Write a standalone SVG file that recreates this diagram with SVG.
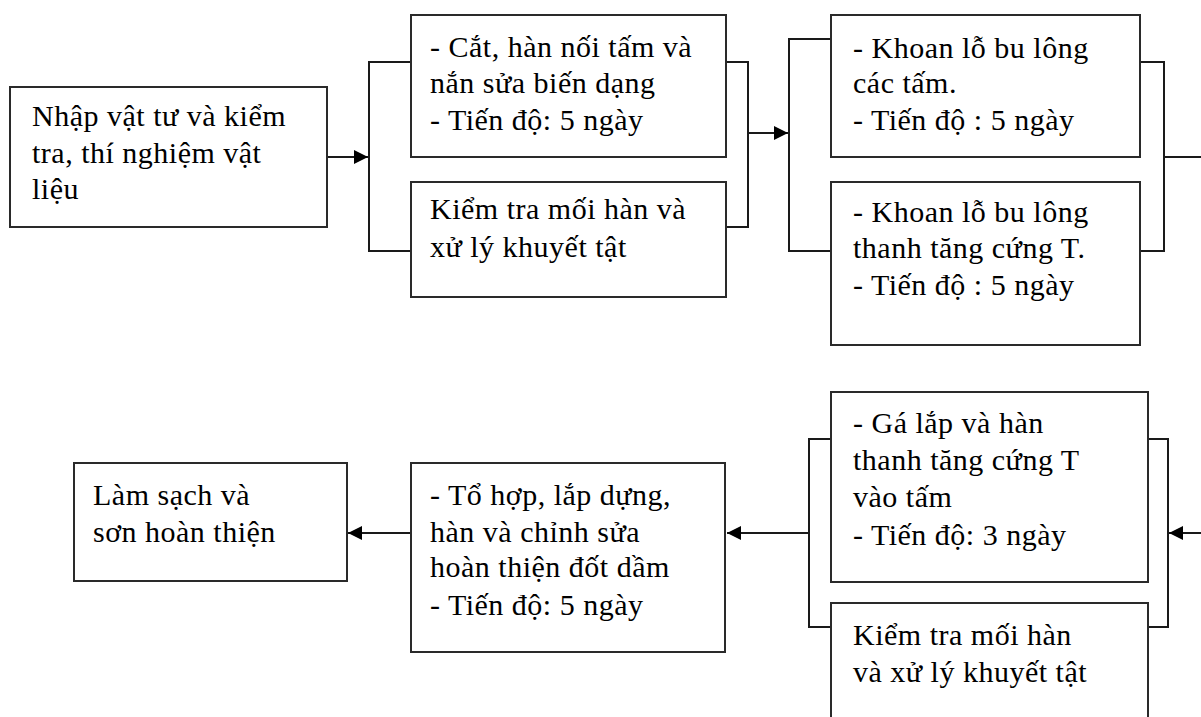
<svg xmlns="http://www.w3.org/2000/svg" width="1201" height="717" viewBox="0 0 1201 717">
<style>
.box{fill:#fff;stroke:#2a2a2a;stroke-width:2}
.t{font-family:"Liberation Serif","Times New Roman",serif;font-size:30px;letter-spacing:0.5px;fill:#000}
.c{fill:none;stroke:#1a1a1a;stroke-width:2}
</style>
<defs>
<marker id="ah" viewBox="0 0 10 10" refX="10" refY="5" markerWidth="16" markerHeight="14" markerUnits="userSpaceOnUse" orient="auto">
<path d="M0,0 L10,5 L0,10 z" fill="#000"/>
</marker>
</defs>
<rect width="1201" height="717" fill="#fff"/>
<g id="connectors">
<path class="c" d="M327,157 H368" marker-end="url(#ah)"/>
<path class="c" d="M411,62 H369 V251 H411"/>
<path class="c" d="M726,62 H748 V227 H726"/>
<path class="c" d="M748,133 H788" marker-end="url(#ah)"/>
<path class="c" d="M831,39 H789 V251 H831"/>
<path class="c" d="M1140,62 H1164 V251 H1140"/>
<path class="c" d="M1164,157 H1201"/>
<path class="c" d="M1201,533 H1169" marker-end="url(#ah)"/>
<path class="c" d="M1148,439 H1168 V627 H1148"/>
<path class="c" d="M831,439 H809 V627 H831"/>
<path class="c" d="M809,533 H727" marker-end="url(#ah)"/>
<path class="c" d="M411,533 H348" marker-end="url(#ah)"/>
</g>
<g id="n1">
<rect class="box" x="10" y="87" width="317" height="140"/>
<text class="t" x="32" y="126">Nhập vật tư và kiểm</text>
<text class="t" x="32" y="163">tra, thí nghiệm vật</text>
<text class="t" x="32" y="199">liệu</text>
</g>
<g id="n2">
<rect class="box" x="411" y="15" width="315" height="142"/>
<text class="t" x="430" y="57">- Cắt, hàn nối tấm và</text>
<text class="t" x="430" y="93">nắn sửa biến dạng</text>
<text class="t" x="430" y="130">- Tiến độ: 5 ngày</text>
</g>
<g id="n3">
<rect class="box" x="411" y="182" width="315" height="115"/>
<text class="t" x="430" y="219">Kiểm tra mối hàn và</text>
<text class="t" x="430" y="257">xử lý khuyết tật</text>
</g>
<g id="n4">
<rect class="box" x="831" y="15" width="309" height="142"/>
<text class="t" x="853" y="58">- Khoan lỗ bu lông</text>
<text class="t" x="853" y="93">các tấm.</text>
<text class="t" x="853" y="130">- Tiến độ : 5 ngày</text>
</g>
<g id="n5">
<rect class="box" x="831" y="182" width="309" height="163"/>
<text class="t" x="853" y="222">- Khoan lỗ bu lông</text>
<text class="t" x="853" y="258">thanh tăng cứng T.</text>
<text class="t" x="853" y="295">- Tiến độ : 5 ngày</text>
</g>
<g id="n6">
<rect class="box" x="831" y="392" width="317" height="190"/>
<text class="t" x="853" y="433">- Gá lắp và hàn</text>
<text class="t" x="853" y="470">thanh tăng cứng T</text>
<text class="t" x="853" y="507">vào tấm</text>
<text class="t" x="853" y="545">- Tiến độ: 3 ngày</text>
</g>
<g id="n7">
<rect class="box" x="831" y="603" width="317" height="140"/>
<text class="t" x="853" y="645">Kiểm tra mối hàn</text>
<text class="t" x="853" y="682">và xử lý khuyết tật</text>
</g>
<g id="n8">
<rect class="box" x="411" y="463" width="314" height="189"/>
<text class="t" x="430" y="505">- Tổ hợp, lắp dựng,</text>
<text class="t" x="430" y="542">hàn và chỉnh sửa</text>
<text class="t" x="430" y="577">hoàn thiện đốt dầm</text>
<text class="t" x="430" y="615">- Tiến độ: 5 ngày</text>
</g>
<g id="n9">
<rect class="box" x="74" y="463" width="273" height="118"/>
<text class="t" x="93" y="505">Làm sạch và</text>
<text class="t" x="93" y="542">sơn hoàn thiện</text>
</g>
</svg>
